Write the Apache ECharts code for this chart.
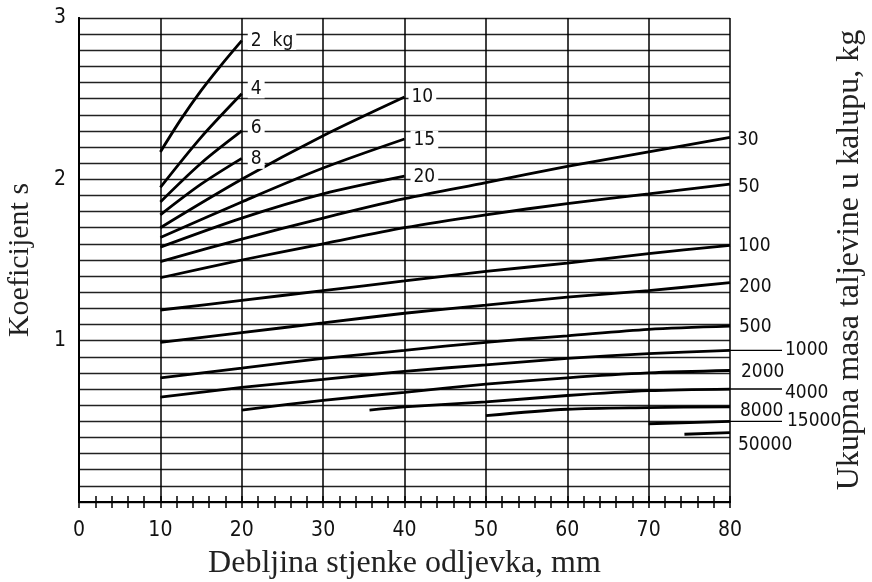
<!DOCTYPE html>
<html>
<head>
<meta charset="utf-8">
<script src="https://cdn.jsdelivr.net/npm/echarts@6/dist/echarts.min.js"></script>
<style>
  html, body { margin: 0; padding: 0; background: #fff; overflow: hidden; }
  #main { width: 872px; height: 582px; }
</style>
</head>
<body>
<div id="main"></div>
<script>
// Debljina stjenke (mm) -> koeficijent s, po masi taljevine
const xMin = 0, xMax = 80, xStep = 10
const yMin = 0, yMax = 3, yStep = 0.1

const kg2 = [[10, 2.17], [12.5, 2.37], [15, 2.55], [17.5, 2.71], [20, 2.86]]
const kg4 = [[10, 1.95], [15, 2.26], [20, 2.53]]
const kg6 = [[10, 1.86], [15, 2.10], [20, 2.30]]
const kg8 = [[10, 1.78], [15, 1.97], [20, 2.13]]
const kg10 = [[10, 1.70], [20, 2.00], [30, 2.27], [40, 2.51]]
const kg15 = [[10, 1.64], [20, 1.86], [30, 2.07], [40, 2.25]]
const kg20 = [[10, 1.58], [20, 1.76], [30, 1.91], [40, 2.02]]
const kg30 = [[10, 1.49], [20, 1.63], [30, 1.76], [40, 1.88], [50, 1.98], [60, 2.08], [70, 2.17], [80, 2.26]]
const kg50 = [[10, 1.39], [20, 1.50], [30, 1.60], [40, 1.70], [50, 1.78], [60, 1.85], [70, 1.91], [80, 1.97]]
const kg100 = [[10, 1.19], [20, 1.25], [30, 1.31], [40, 1.37], [50, 1.43], [60, 1.48], [70, 1.54], [80, 1.59]]
const kg200 = [[10, 0.99], [20, 1.05], [30, 1.11], [40, 1.17], [50, 1.22], [60, 1.27], [70, 1.31], [80, 1.36]]
const kg500 = [[10, 0.77], [20, 0.83], [30, 0.89], [40, 0.94], [50, 0.99], [60, 1.03], [70, 1.07], [80, 1.09]]
const kg1000 = [[10, 0.65], [20, 0.71], [30, 0.76], [40, 0.81], [50, 0.85], [60, 0.89], [70, 0.92], [80, 0.94]]
const kg2000 = [[20, 0.57], [30, 0.63], [40, 0.68], [50, 0.73], [60, 0.77], [70, 0.80], [80, 0.815]]
const kg4000 = [[35.7, 0.57], [40, 0.59], [50, 0.62], [60, 0.66], [70, 0.69], [80, 0.70]]
const kg8000 = [[50, 0.535], [60, 0.575], [70, 0.585], [80, 0.59]]
const kg15000 = [[70, 0.485], [80, 0.50]]
const kg50000 = [[74.4, 0.42], [80, 0.43]]

const curveLabels = ['2  kg', '4', '6', '8', '10', '15', '20', '30', '50', '100', '200', '500',
  '1000', '2000', '4000', '8000', '15000', '50000']
const curveData = [kg2, kg4, kg6, kg8, kg10, kg15, kg20, kg30, kg50, kg100, kg200, kg500,
  kg1000, kg2000, kg4000, kg8000, kg15000, kg50000]

// pomak natpisa [dx, dy] u px
const labelOffset = {
  '2  kg': [6, 0], '4': [6, -5], '6': [6, -3], '8': [6, 1],
  '10': [4, 0], '15': [6, 1], '20': [6, 1],
  '30': [7, 3], '50': [8, 3], '100': [8, 1], '200': [9, 4], '500': [9, 1],
  '1000': [55, 0], '2000': [11, 2], '4000': [55, 4], '8000': [10, 4], '15000': [57, 0], '50000': [8, 12]
}
const leaderLines = ['1000', '4000', '15000']

const numFont = "'DejaVu Sans Condensed', 'Liberation Sans Narrow', 'Roboto', sans-serif"
const serif = "'Liberation Serif', 'DejaVu Serif', serif"

const chart = echarts.init(document.getElementById('main'))

const series = curveData.map((d, i) => {
  const name = curveLabels[i]
  const inside = i < 7
  return {
    name: name,
    type: 'line',
    data: d,
    smooth: 0.3,
    showSymbol: false,
    silent: true,
    lineStyle: { color: '#000', width: 2.8 },
    endLabel: {
      show: true,
      formatter: name,
      distance: 0,
      offset: labelOffset[name],
      fontFamily: numFont,
      fontSize: 19,
      color: '#111',
      backgroundColor: inside ? '#fff' : 'transparent',
      padding: inside ? [0, 3] : 0
    }
  }
})

chart.setOption({
  animation: false,
  backgroundColor: '#fff',
  grid: { left: 79, right: 142, top: 18, bottom: 80, outerBoundsMode: 'none' },
  xAxis: [{
    type: 'value',
    min: xMin,
    max: xMax,
    interval: xStep,
    position: 'bottom',
    axisLine: { lineStyle: { color: '#000', width: 2 } },
    axisTick: { show: true, inside: true, length: 6, lineStyle: { color: '#000', width: 1.5 } },
    minorTick: { show: true, splitNumber: 5, length: 6, lineStyle: { color: '#000', width: 1.5 } },
    splitLine: { show: true, lineStyle: { color: '#000', width: 1.5 } },
    axisLabel: { fontFamily: numFont, fontSize: 21, color: '#111', margin: 18 },
    name: 'Debljina stjenke odljevka, mm',
    nameLocation: 'middle',
    nameGap: 46,
    nameTextStyle: { fontFamily: serif, fontSize: 32, color: '#222' }
  }, {
    type: 'value',
    min: xMin,
    max: xMax,
    interval: xStep,
    position: 'top',
    axisLine: { lineStyle: { color: '#000', width: 2 } },
    axisTick: { show: true, inside: true, length: 6, lineStyle: { color: '#000', width: 1.5 } },
    minorTick: { show: true, splitNumber: 5, length: 6, lineStyle: { color: '#000', width: 1.5 } },
    splitLine: { show: false },
    axisLabel: { show: false }
  }],
  yAxis: [{
    type: 'value',
    min: yMin,
    max: yMax,
    interval: yStep,
    axisLine: { show: true, lineStyle: { color: '#000', width: 2 } },
    axisTick: { show: false },
    splitLine: { show: true, lineStyle: { color: '#222', width: 1.4 } },
    axisLabel: {
      fontFamily: numFont,
      fontSize: 21,
      color: '#111',
      margin: 13,
      formatter: v => {
        const r = Math.round(v)
        return (Math.abs(v - r) < 1e-6 && r > 0) ? String(r) : ''
      }
    },
    name: 'Koeficijent s',
    nameLocation: 'middle',
    nameRotate: 90,
    nameGap: 44,
    nameTextStyle: { fontFamily: serif, fontSize: 30, color: '#222' }
  }, {
    type: 'value',
    min: yMin,
    max: yMax,
    interval: yStep,
    position: 'right',
    axisLine: { show: true, lineStyle: { color: '#000', width: 2 } },
    axisTick: { show: false },
    splitLine: { show: false },
    axisLabel: { show: false },
    name: 'Ukupna masa taljevine u kalupu, kg',
    nameLocation: 'middle',
    nameRotate: 90,
    nameGap: 104,
    nameTextStyle: { fontFamily: serif, fontSize: 32, color: '#222' }
  }],
  series: series
})

// vodeće linije do udaljenih natpisa
const graphics = leaderLines.map(name => {
  const d = curveData[curveLabels.indexOf(name)]
  const p = chart.convertToPixel({ xAxisIndex: 0, yAxisIndex: 0 }, d[d.length - 1])
  return {
    type: 'line',
    shape: { x1: p[0], y1: p[1], x2: p[0] + 52, y2: p[1] },
    style: { stroke: '#000', lineWidth: 1.4 },
    silent: true
  }
})
chart.setOption({ graphic: graphics })
</script>
</body>
</html>
